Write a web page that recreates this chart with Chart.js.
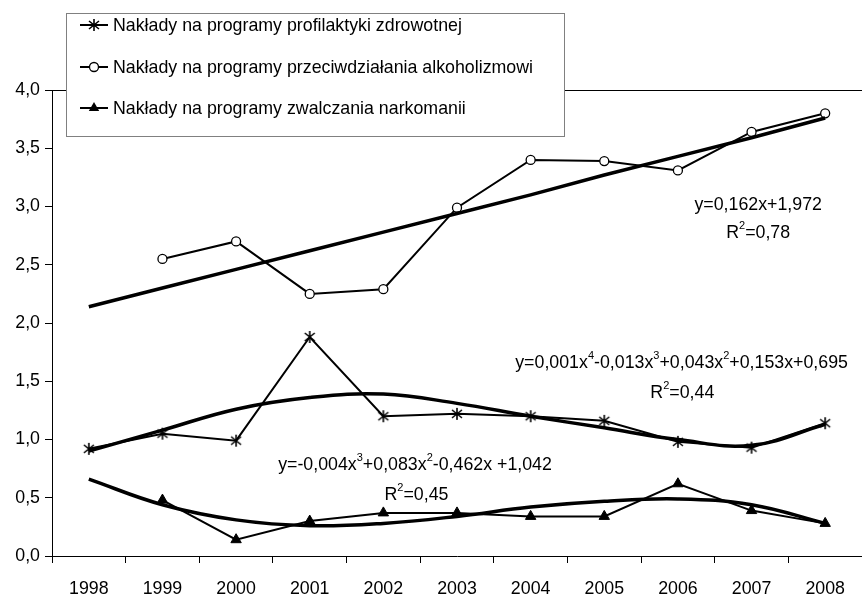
<!DOCTYPE html>
<html>
<head>
<meta charset="utf-8">
<script src="https://cdn.jsdelivr.net/npm/chart.js@4.4.0/dist/chart.umd.min.js"></script>
<style>
  html, body { margin: 0; padding: 0; background: #fff; }
  #wrap { position: relative; width: 862px; height: 594px; }
</style>
</head>
<body>
<div id="wrap"><canvas id="c" width="862" height="594"></canvas></div>
<script>
// categories
const years = ['1998', '1999', '2000', '2001', '2002', '2003', '2004', '2005', '2006', '2007', '2008'];

// series
const profilaktyka = [0.92, 1.05, 0.99, 1.88, 1.20, 1.22, 1.20, 1.16, 0.98, 0.93, 1.14];
const alkoholizm   = [null, 2.55, 2.70, 2.25, 2.29, 2.99, 3.40, 3.39, 3.31, 3.64, 3.80];
const narkomania   = [null, 0.48, 0.14, 0.30, 0.37, 0.37, 0.34, 0.34, 0.62, 0.39, 0.28];

// trend lines as drawn in the picture
const trendProfilaktyka = [0.90, 1.08, 1.26, 1.36, 1.39, 1.31, 1.20, 1.10, 1.00, 0.95, 1.13];
const trendAlkoholizm   = [2.14, 2.30, 2.46, 2.62, 2.78, 2.94, 3.10, 3.27, 3.43, 3.59, 3.76];
const trendNarkomania   = [0.66, 0.44, 0.31, 0.26, 0.28, 0.34, 0.42, 0.47, 0.49, 0.44, 0.28];

// y axis ticks
const yTicks = [0, 0.5, 1, 1.5, 2, 2.5, 3, 3.5, 4];

const legendLabels = [
  'Nakłady na programy profilaktyki zdrowotnej',
  'Nakłady na programy przeciwdziałania alkoholizmowi',
  'Nakłady na programy zwalczania narkomanii',
];

// equations: [text, isSuperscript] pieces, anchored in data coords (category index, value)
const trendLabels = [
  { at: [9.09, 3.01], parts: [['y=0,162x+1,972', 0]] },
  { at: [9.09, 2.77], parts: [['R', 0], ['2', 1], ['=0,78', 0]] },
  { at: [8.05, 1.66], parts: [['y=0,001x', 0], ['4', 1], ['-0,013x', 0], ['3', 1], ['+0,043x', 0], ['2', 1], ['+0,153x+0,695', 0]] },
  { at: [8.06, 1.40], parts: [['R', 0], ['2', 1], ['=0,44', 0]] },
  { at: [4.43, 0.78], parts: [['y=-0,004x', 0], ['3', 1], ['+0,083x', 0], ['2', 1], ['-0,462x +1,042', 0]] },
  { at: [4.45, 0.525], parts: [['R', 0], ['2', 1], ['=0,45', 0]] },
];

const FONT = 'Liberation Sans, Arial, sans-serif';
const FS = 17.8;

// Excel-like asterisk marker: X plus vertical bar
function asteriskMarker() {
  const c = document.createElement('canvas');
  c.width = 14; c.height = 14;
  const g = c.getContext('2d');
  g.strokeStyle = '#000';
  g.lineWidth = 1.6;
  g.beginPath();
  g.moveTo(7, 1); g.lineTo(7, 13);
  g.moveTo(2, 3); g.lineTo(12, 11);
  g.moveTo(2, 11); g.lineTo(12, 3);
  g.stroke();
  return c;
}
const star = asteriskMarker();

function drawRich(ctx, parts, cx, cy) {
  const main = FS + 'px ' + FONT, sup = '11px ' + FONT;
  let w = 0;
  parts.forEach(([t, s]) => { ctx.font = s ? sup : main; w += ctx.measureText(t).width; });
  let x = cx - w / 2;
  ctx.textBaseline = 'middle';
  ctx.textAlign = 'left';
  ctx.fillStyle = '#000';
  parts.forEach(([t, s]) => {
    ctx.font = s ? sup : main;
    ctx.fillText(t, x, s ? cy - 7 : cy);
    x += ctx.measureText(t).width;
  });
}

const labelsPlugin = {
  id: 'trendLabels',
  afterDatasetsDraw(chart) {
    const { ctx, scales: { x, y } } = chart;
    ctx.save();
    trendLabels.forEach(l => drawRich(ctx, l.parts, x.getPixelForValue(l.at[0]), y.getPixelForValue(l.at[1])));
    ctx.restore();
  }
};

// boxed legend overlapping the plot, top-left
const boxLegend = {
  id: 'boxLegend',
  afterDraw(chart) {
    const ctx = chart.ctx;
    const bx = 66.5, by = 13.5, bw = 498, bh = 123;
    ctx.save();
    ctx.fillStyle = '#fff';
    ctx.fillRect(bx, by, bw, bh);
    ctx.strokeStyle = '#808080';
    ctx.lineWidth = 1;
    ctx.strokeRect(bx, by, bw, bh);
    const rows = [25, 67, 108];
    rows.forEach((ry, i) => {
      ctx.strokeStyle = '#000';
      ctx.lineWidth = 2;
      ctx.beginPath();
      ctx.moveTo(80, ry); ctx.lineTo(108, ry);
      ctx.stroke();
      if (i === 0) {
        ctx.drawImage(star, 94 - 7, ry - 7);
      } else if (i === 1) {
        ctx.beginPath();
        ctx.arc(94, ry, 4.5, 0, Math.PI * 2);
        ctx.fillStyle = '#fff'; ctx.fill();
        ctx.lineWidth = 1.3; ctx.stroke();
      } else {
        const r = 6;
        ctx.beginPath();
        ctx.moveTo(94, ry - r);
        ctx.lineTo(94 + r * 0.866, ry + r / 2);
        ctx.lineTo(94 - r * 0.866, ry + r / 2);
        ctx.closePath();
        ctx.fillStyle = '#000'; ctx.fill();
      }
      ctx.fillStyle = '#000';
      ctx.font = FS + 'px ' + FONT;
      ctx.textBaseline = 'middle';
      ctx.textAlign = 'left';
      ctx.fillText(legendLabels[i], 113, ry + 1);
    });
    ctx.restore();
  }
};

const dataLine = { borderColor: '#000', borderWidth: 2, tension: 0, spanGaps: false, order: 2 };
const trendLine = { borderColor: '#000', borderWidth: 3.5, pointRadius: 0, fill: false, order: 1 };

new Chart(document.getElementById('c'), {
  type: 'line',
  data: {
    labels: years,
    datasets: [
      { ...dataLine, label: legendLabels[0], data: profilaktyka, pointStyle: star, pointRadius: 7 },
      { ...dataLine, label: legendLabels[1], data: alkoholizm, pointStyle: 'circle', pointRadius: 4.5,
        pointBackgroundColor: '#fff', pointBorderColor: '#000', pointBorderWidth: 1.3 },
      { ...dataLine, label: legendLabels[2], data: narkomania, pointStyle: 'triangle', pointRadius: 6,
        pointBackgroundColor: '#000', pointBorderColor: '#000', pointBorderWidth: 1 },
      { ...trendLine, label: 'trend1', data: trendProfilaktyka, tension: 0.4 },
      { ...trendLine, label: 'trend2', data: trendAlkoholizm, tension: 0 },
      { ...trendLine, label: 'trend3', data: trendNarkomania, tension: 0.4 },
    ],
  },
  options: {
    responsive: false,
    animation: false,
    devicePixelRatio: 1,
    layout: { autoPadding: false, padding: { top: 90, left: 0, right: 0, bottom: 0 } },
    plugins: { legend: { display: false }, tooltip: { enabled: false } },
    scales: {
      x: {
        type: 'category',
        offset: true,
        grid: { offset: true, drawOnChartArea: false, color: '#000', tickColor: '#000', tickLength: 7 },
        border: { color: '#000', width: 1 },
        ticks: { color: '#000', font: { family: FONT, size: FS }, padding: 15, maxRotation: 0 },
        afterFit(s) { s.height = 38; s.paddingLeft = 0; s.paddingRight = 0; },
      },
      y: {
        min: 0, max: 4,
        afterBuildTicks(s) { s.ticks = yTicks.map(v => ({ value: v })); },
        grid: { color: c => (c.tick && c.tick.value === 4 ? '#000' : 'rgba(0,0,0,0)'), tickColor: '#000', tickLength: 7 },
        border: { color: '#000', width: 1 },
        ticks: { color: '#000', font: { family: FONT, size: FS }, padding: 5,
          callback: v => v.toFixed(1).replace('.', ',') },
        afterFit(s) { s.width = 52; s.paddingTop = 0; s.paddingBottom = 0; },
      },
    },
  },
  plugins: [labelsPlugin, boxLegend],
});
</script>
</body>
</html>
